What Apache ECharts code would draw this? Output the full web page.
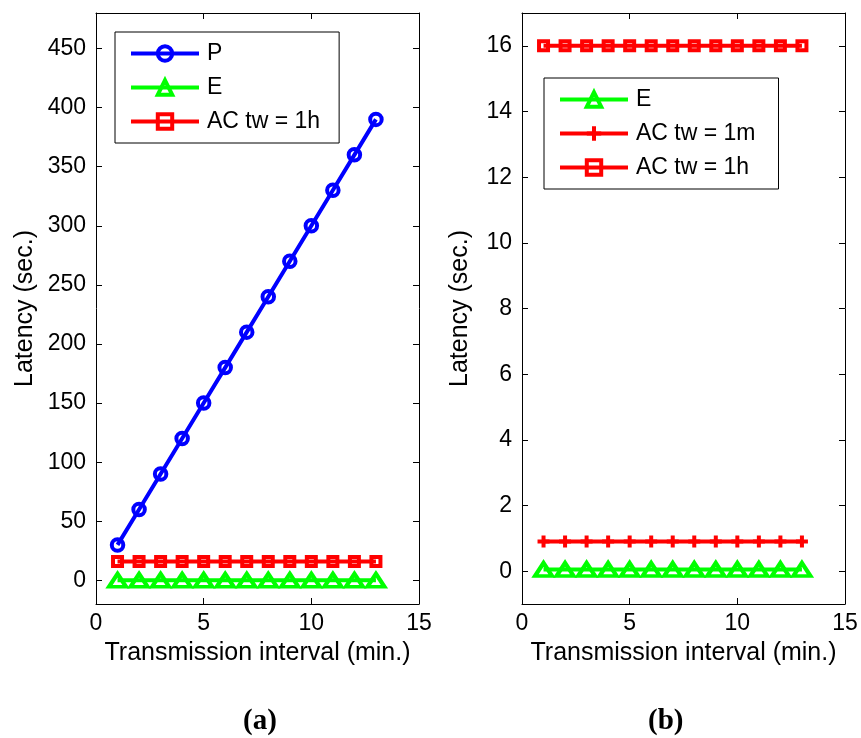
<!DOCTYPE html>
<html>
<head>
<meta charset="utf-8">
<script src="https://cdn.jsdelivr.net/npm/echarts@6/dist/echarts.min.js"></script>
<style>
  html, body { margin: 0; padding: 0; background: #fff; }
  #chart { width: 861px; height: 738px; }
</style>
</head>
<body>
<div id="chart"></div>
<script>
// Transmission interval (minutes) shared by both panels
const intervals = [1, 2, 3, 4, 5, 6, 7, 8, 9, 10, 11, 12, 13];

// Latency (seconds) per scheme
const latencyP = [30, 60, 90, 120, 150, 180, 210, 240, 270, 300, 330, 360, 390];
const latencyE = [0.05, 0.05, 0.05, 0.05, 0.05, 0.05, 0.05, 0.05, 0.05, 0.05, 0.05, 0.05, 0.05];
const latencyAC1m = [0.9, 0.9, 0.9, 0.9, 0.9, 0.9, 0.9, 0.9, 0.9, 0.9, 0.9, 0.9, 0.9];
const latencyAC1h = [16, 16, 16, 16, 16, 16, 16, 16, 16, 16, 16, 16, 16];

// Tick values
const xTicks = [0, 5, 10, 15];
const yTicksA = [0, 50, 100, 150, 200, 250, 300, 350, 400, 450];
const yTicksB = [0, 2, 4, 6, 8, 10, 12, 14, 16];

const FONT = '"Liberation Sans", Arial, Helvetica, sans-serif';
const BLUE = '#0000ff', GREEN = '#00ff00', RED = '#ff0000';
const LINE_W = 4;

const pairs = (ys) => intervals.map((x, i) => [x, ys[i]]);

const tickFont = { fontSize: 23, color: '#000', fontFamily: FONT };
const nameFont = { fontSize: 25, color: '#000', fontFamily: FONT };
const axisLine = { show: true, onZero: false, lineStyle: { color: '#000', width: 1 } };
const tickStyle = { show: true, inside: true, length: 6, lineStyle: { color: '#000' } };

function xAxisPair(grid) {
  return [
    {
      gridIndex: grid, type: 'value', position: 'bottom',
      min: xTicks[0], max: xTicks[xTicks.length - 1], interval: xTicks[1] - xTicks[0],
      axisLine, splitLine: { show: false }, axisTick: tickStyle,
      axisLabel: { show: true, margin: 8, ...tickFont },
      name: 'Transmission interval (min.)', nameLocation: 'middle', nameGap: 37,
      nameTextStyle: nameFont
    },
    {
      gridIndex: grid, type: 'value', position: 'top',
      min: xTicks[0], max: xTicks[xTicks.length - 1], interval: xTicks[1] - xTicks[0],
      axisLine, splitLine: { show: false }, axisTick: tickStyle,
      axisLabel: { show: false }
    }
  ];
}

function yAxisPair(grid, min, max, ticks, gap) {
  return [
    {
      gridIndex: grid, type: 'value', position: 'left', min, max,
      axisLine, splitLine: { show: false },
      axisTick: { ...tickStyle, customValues: ticks },
      axisLabel: { show: true, margin: 10, customValues: ticks, ...tickFont },
      name: 'Latency (sec.)', nameLocation: 'middle', nameGap: gap, nameTextStyle: nameFont
    },
    {
      gridIndex: grid, type: 'value', position: 'right', min, max,
      axisLine, splitLine: { show: false },
      axisTick: { ...tickStyle, customValues: ticks },
      axisLabel: { show: false }
    }
  ];
}

function lineSeries(name, xi, yi, ys, color, symbol, size) {
  return {
    name, type: 'line', xAxisIndex: xi, yAxisIndex: yi, data: pairs(ys),
    symbol, symbolSize: size, showAllSymbol: true,
    lineStyle: { color, width: LINE_W },
    itemStyle: { color: 'rgba(0,0,0,0)', borderColor: color, borderWidth: LINE_W },
    emphasis: { disabled: true }, silent: true, z: 3
  };
}

// plus-sign marker
const PLUS = 'path://M0,5L10,5M5,0L5,10';

const legendBase = {
  orient: 'vertical', itemWidth: 68, itemHeight: 18, itemGap: 11,
  borderColor: '#000', borderWidth: 1, backgroundColor: '#fff', borderRadius: 0,
  lineStyle: { width: LINE_W },
  itemStyle: { borderWidth: LINE_W },
  textStyle: { fontSize: 23, color: '#000', fontFamily: FONT, padding: [0, 0, 0, 3] },
  selectedMode: false
};

const option = {
  animation: false,
  backgroundColor: '#fff',
  grid: [
    { left: 96, top: 13, width: 323, height: 591, containLabel: false },
    { left: 522, top: 13, width: 323, height: 591, containLabel: false }
  ],
  xAxis: [...xAxisPair(0), ...xAxisPair(1)],
  yAxis: [...yAxisPair(0, -20, 480, yTicksA, 58), ...yAxisPair(1, -1, 17, yTicksB, 49)],
  legend: [
    { ...legendBase, left: 115, top: 32, padding: [10, 19, 10, 14],
      data: ['P', 'E', 'AC tw = 1h'] },
    { ...legendBase, left: 544, top: 78, padding: [10, 23, 10, 14],
      data: ['E', 'AC tw = 1m', 'AC tw = 1h'] }
  ],
  series: [
    lineSeries('P', 0, 0, latencyP, BLUE, 'circle', 11.5),
    lineSeries('E', 0, 0, latencyE, GREEN, 'triangle', [17, 13]),
    lineSeries('AC tw = 1h', 0, 0, latencyAC1h, RED, 'rect', 9),
    lineSeries('AC tw = 1h', 2, 2, latencyAC1h, RED, 'rect', 9),
    lineSeries('AC tw = 1m', 2, 2, latencyAC1m, RED, PLUS, 12),
    lineSeries('E', 2, 2, latencyE, GREEN, 'triangle', [17, 13])
  ],
  graphic: [
    { type: 'text', left: 243, top: 707,
      style: { text: '(a)', font: 'bold 29px "Liberation Serif", "Times New Roman", serif', fill: '#000' } },
    { type: 'text', left: 648, top: 707,
      style: { text: '(b)', font: 'bold 29px "Liberation Serif", "Times New Roman", serif', fill: '#000' } }
  ]
};

echarts.init(document.getElementById('chart'), null, { renderer: 'canvas' }).setOption(option);
</script>
</body>
</html>
